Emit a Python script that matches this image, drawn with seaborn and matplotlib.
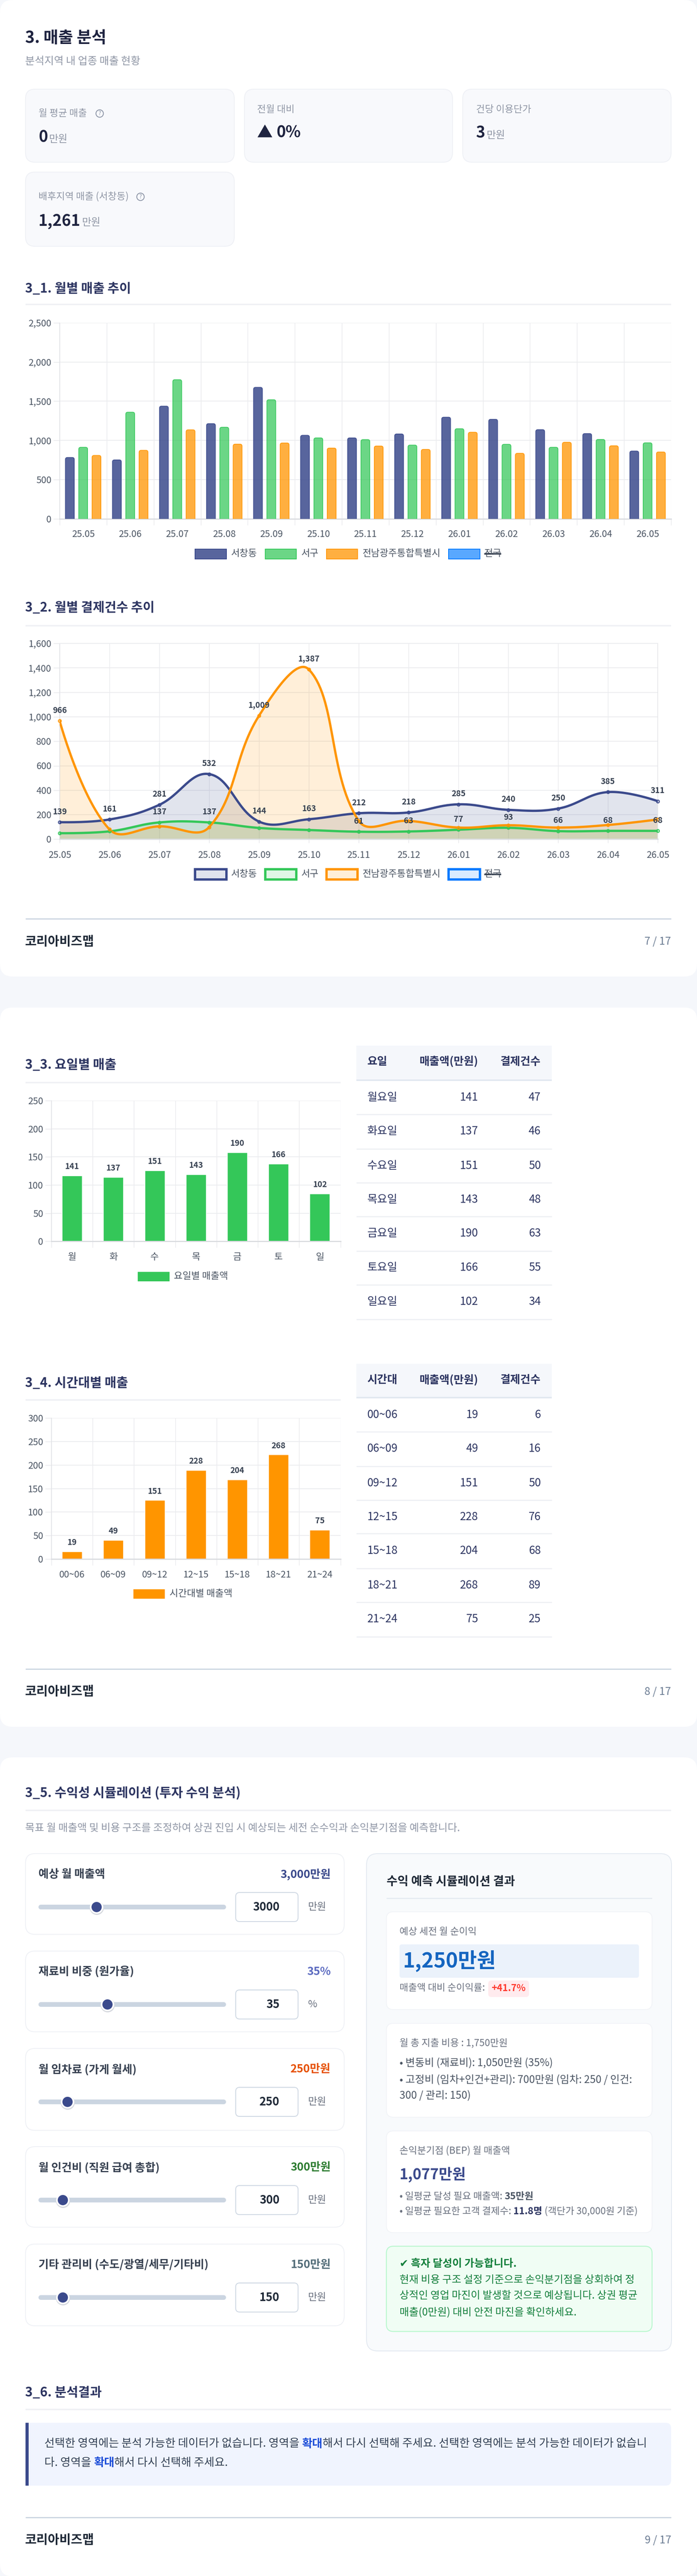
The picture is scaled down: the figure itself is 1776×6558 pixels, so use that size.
import numpy as np
import pandas as pd
import matplotlib
matplotlib.use("Agg")
import matplotlib.pyplot as plt
from matplotlib.patches import FancyBboxPatch, Rectangle, Circle
from matplotlib.colors import to_rgba
import seaborn as sns

sns.set_theme(style="white")
plt.rcParams['font.family'] = ['Noto Sans CJK KR', 'DejaVu Sans']
plt.rcParams['axes.unicode_minus'] = False

# 데이터
months = ["25.05", "25.06", "25.07", "25.08", "25.09", "25.10", "25.11", "25.12",
          "26.01", "26.02", "26.03", "26.04", "26.05"]
series_names = ["서창동", "서구", "전남광주통합특별시"]
sales_seochang = [782, 751, 1437, 1214, 1677, 1065, 1032, 1082, 1296, 1269, 1137, 1087, 864]
sales_seogu = [912, 1360, 1775, 1168, 1519, 1032, 1010, 940, 1149, 950, 912, 1012, 969]
sales_jeonnam = [808, 873, 1135, 952, 967, 902, 928, 885, 1104, 835, 976, 931, 852]

count_seochang = [139, 161, 281, 532, 144, 163, 212, 218, 285, 240, 250, 385, 311]
count_seogu = [49, 64, 137, 137, 92, 75, 61, 63, 77, 93, 66, 68, 68]
count_jeonnam = [966, 80, 105, 99, 1009, 1387, 150, 150, 95, 114, 95, 116, 161]

weekdays = ["월", "화", "수", "목", "금", "토", "일"]
weekday_bars = [117, 114, 126, 119, 158, 138, 85]
weekday_labels = [141, 137, 151, 143, 190, 166, 102]
weekday_rows = ["월요일", "화요일", "수요일", "목요일", "금요일", "토요일", "일요일"]
weekday_counts = [47, 46, 50, 48, 63, 55, 34]

hours = ["00~06", "06~09", "09~12", "12~15", "15~18", "18~21", "21~24"]
hour_bars = [16, 40.5, 125, 189, 169, 222, 62]
hour_labels = [19, 49, 151, 228, 204, 268, 75]
hour_counts = [6, 16, 50, 76, 68, 89, 25]

slider_names = ["예상 월 매출액", "재료비 비중 (원가율)", "월 임차료 (가게 월세)", "월 인건비 (직원 급여 총합)",
                "기타 관리비 (수도/광열/세무/기타비)"]
slider_shown = ["3,000만원", "35%", "250만원", "300만원", "150만원"]
slider_inputs = ["3000", "35", "250", "300", "150"]
slider_units = ["만원", "%", "만원", "만원", "만원"]
slider_pos = [0.31, 0.368, 0.155, 0.13, 0.13]
slider_colors = ["#3B4A8C", "#5C6BC0", "#E65100", "#2E7D32", "#546E7A"]

NAVY = "#3B4A8C"
GREEN = "#34C759"
ORANGE = "#FF9500"
BLUE = "#007AFF"
HEAD = "#2D3561"
GRAY = "#9097A6"
colors = [NAVY, GREEN, ORANGE]
bar_alpha = {NAVY: 0.85, GREEN: 0.73, ORANGE: 0.75, BLUE: 0.65}

W, H = 1776, 6558
fig = plt.figure(figsize=(W / 100, H / 100), dpi=100, facecolor="#F5F7FB")
page = fig.add_axes([0, 0, 1, 1], zorder=0)
page.set_xlim(0, W)
page.set_ylim(H, 0)
page.axis("off")


def put(x, y, s, size, color="#374151", weight="normal", ha="left", **kw):
    return page.text(x, y, s, fontsize=size * 0.72, color=color, fontweight=weight,
                     ha=ha, va="center", **kw)


def box(x0, y0, x1, y1, r, fc, ec="none", lw=2, **kw):
    p = FancyBboxPatch((x0, y0), x1 - x0, y1 - y0, boxstyle=f"round,pad=0,rounding_size={r}",
                       fc=fc, ec=ec, lw=lw * 0.72, **kw)
    page.add_patch(p)
    return p


def rule(x0, x1, y, color="#F0F1F5", px=4):
    page.plot([x0, x1], [y, y], color=color, lw=px * 0.72, solid_capstyle="butt")


def runs(x, y, parts, size):
    # 글자 굵기, 색이 섞인 한 줄
    rend = fig.canvas.get_renderer()
    for s, color, weight in parts:
        t = put(x, y, s, size, color, weight)
        x += t.get_window_extent(rend).width


def chart_axes(x0, y0, x1, y1):
    ax = fig.add_axes([x0 / W, 1 - y1 / H, (x1 - x0) / W, (y1 - y0) / H], zorder=1)
    ax.set_facecolor("white")
    return ax


def legend_row(items, y, h, alpha, edge_px):
    for x, w, tx, name, color in items:
        a = bar_alpha[color] if alpha is None else alpha
        page.add_patch(Rectangle((x, y - h / 2), w, h, fc=to_rgba(color, a), ec=color, lw=edge_px * 0.72))
        put(tx, y, name, 24, "#4B5563")


legend_items = [(497, 80, 589, "서창동", NAVY), (676, 79, 768, "서구", GREEN),
                (832, 79, 924, "전남광주통합특별시", ORANGE), (1143, 80, 1234, "전국", BLUE)]


def style_axis(ax, bottom_px=3):
    sns.despine(ax=ax, top=True, right=True)
    ax.spines["left"].set_color("#E0E1E5")
    ax.spines["left"].set_linewidth(1.1)
    ax.spines["bottom"].set_color("#DADCE0")
    ax.spines["bottom"].set_linewidth(bottom_px * 0.72)
    ax.set_axisbelow(True)
    ax.yaxis.grid(True, color="#EBECEF", lw=1.5)
    ax.set_xlabel("")
    ax.set_ylabel("")
    ax.tick_params(axis="y", left=True, length=16 * 0.72, width=1, color="#E3E4E8", labelsize=23.5 * 0.72,
                   labelcolor="#4B5563", pad=3.5)


def band_grid(ax, n):
    ax.set_xlim(-0.5, n - 0.5)
    ax.set_xticks(np.arange(-0.5, n), minor=True)
    ax.xaxis.grid(True, which="minor", color="#E4E5E8", lw=0.9)
    ax.tick_params(axis="x", which="minor", bottom=True, length=16 * 0.72, width=0.9, color="#E4E5E8")
    ax.tick_params(axis="x", which="major", length=0, labelsize=23.5 * 0.72, labelcolor="#4B5563", pad=20.8)


# ---- 배경 카드 3장 ----
box(0, 0, W, 2486, 32, "white")
box(0, 2565, W, 4396, 32, "white")
box(0, 4474, W, H + 1, 32, "white")

# ---- 제목, 요약 카드 ----
put(64, 97, "3. 매출 분석", 41, "#1F2440", "bold")
put(64, 156, "분석지역 내 업종 매출 현황", 26.6, GRAY)

for x0, x1, y0, y1 in [(65, 597, 227, 413), (623, 1153, 227, 413), (1179, 1710, 227, 413), (65, 597, 438, 627)]:
    box(x0, y0, x1, y1, 24, "#F8F9FC", "#EEF0F5", 2)


def help_icon(x, y):
    page.add_patch(Circle((x, y), 9.5, fc="none", ec="#8A93A5", lw=1.5))
    put(x, y, "?", 14, "#8A93A5", ha="center")


put(98, 289, "월 평균 매출", 24.5, GRAY)
help_icon(254, 289)
put(98, 350, "0", 40, "#1F2440", "bold")
put(125, 354, "만원", 26, GRAY)
put(655, 279, "전월 대비", 24.5, GRAY)
put(655, 338, "▲", 40, "#1F2440", "bold")
put(704, 338, "0%", 40, "#1F2440", "bold")
put(1213, 279, "건당 이용단가", 24.5, GRAY)
put(1213, 339, "3", 40, "#1F2440", "bold")
put(1240, 344, "만원", 26, GRAY)
put(98, 501, "배후지역 매출 (서창동)", 24.5, GRAY)
help_icon(358, 501)
put(98, 564, "1,261", 40, "#1F2440", "bold")
put(209, 567, "만원", 26, GRAY)

# ---- 3_1 월별 매출 추이 ----
put(64, 735, "3_1. 월별 매출 추이", 32.6, HEAD, "bold")
rule(65, 1710, 775)

ax1 = chart_axes(152, 822, 1710, 1320.6)
sales_df = pd.DataFrame({"month": months * 3,
                         "series": np.repeat(series_names, 13),
                         "value": sales_seochang + sales_seogu + sales_jeonnam})
sns.barplot(data=sales_df, x="month", y="value", hue="series", palette=colors, saturation=1,
            width=0.85, gap=0.335, legend=False, ax=ax1)
ax1.set_ylim(0, 2500)
style_axis(ax1)
band_grid(ax1, 13)
ax1.set_yticks(range(0, 2501, 500))
ax1.set_yticklabels([f"{v:,}" for v in range(0, 2501, 500)])
# 막대 위쪽 모서리 둥글게
band_px = (1710 - 152) / 13
unit_px = (1320.6 - 822) / 2500
bar_colors = np.repeat(colors, 13)
for bar, hexcol in zip(list(ax1.patches), bar_colors):
    bx, bw, bh = bar.get_x(), bar.get_width(), bar.get_height()
    rx = 5 / band_px
    ax1.add_patch(FancyBboxPatch((bx, -100), bw, bh + 100, boxstyle=f"round,pad=0,rounding_size={rx}",
                                 mutation_aspect=(5 / unit_px) / rx,
                                 fc=to_rgba(hexcol, bar_alpha[hexcol]), ec=hexcol, lw=1.2, zorder=3))
    bar.remove()
legend_row(legend_items, 1410, 25, None, 2)
rule(1234, 1277, 1410, "#374151", 4)

# ---- 3_2 월별 결제건수 추이 ----
put(64, 1547, "3_2. 월별 결제건수 추이", 32.6, HEAD, "bold")
rule(65, 1710, 1593)

ax2 = chart_axes(152, 1638, 1676, 2136.4)
x_px = (1676 - 152) / 12
y_px = (2136.4 - 1638) / 1600


def smooth_curve(values, tension=0.4, n=30):
    # 베지어 곡선으로 점 사이를 부드럽게 연결 (픽셀 거리 기준)
    pts = np.column_stack([np.arange(len(values)) * x_px, np.array(values) * y_px])
    before, after = pts.copy(), pts.copy()
    for i in range(1, len(pts) - 1):
        d01 = np.hypot(*(pts[i] - pts[i - 1]))
        d12 = np.hypot(*(pts[i + 1] - pts[i]))
        s = d01 / (d01 + d12)
        before[i] = pts[i] - tension * s * (pts[i + 1] - pts[i - 1])
        after[i] = pts[i] + tension * (1 - s) * (pts[i + 1] - pts[i - 1])
    out = []
    t = np.linspace(0, 1, n)[:, None]
    for i in range(len(pts) - 1):
        seg = ((1 - t) ** 3 * pts[i] + 3 * (1 - t) ** 2 * t * after[i]
               + 3 * (1 - t) * t ** 2 * before[i + 1] + t ** 3 * pts[i + 1])
        out.append(seg)
    out = np.vstack(out)
    return out[:, 0] / x_px, np.maximum(out[:, 1], 0) / y_px


count_series = [count_seochang, count_seogu, count_jeonnam]
shown_labels = [list(range(13)), list(range(2, 4)) + list(range(6, 13)), [0, 4, 5]]
for vals, col in zip(count_series, colors):
    xs, ys = smooth_curve(vals)
    ax2.fill_between(xs, ys, 0, color=col, alpha=0.15, lw=0, zorder=2)
for vals, col in zip(count_series, colors):
    xs, ys = smooth_curve(vals)
    sns.lineplot(x=xs, y=ys, sort=False, estimator=None, color=col, lw=4.2, ax=ax2, zorder=3)
    sns.scatterplot(x=range(13), y=vals, color=to_rgba(col, 0.3), s=30, edgecolor=col, linewidth=1.5,
                    ax=ax2, zorder=4, clip_on=False, legend=False)
for vals, col, idx in zip(count_series, colors, shown_labels):
    for i in idx:
        ax2.annotate(f"{vals[i]:,}", (i, vals[i]), xytext=(0, 27 * 0.72), textcoords="offset points",
                     ha="center", va="center", fontsize=20.5 * 0.72, color="#374151", fontweight="bold",
                     annotation_clip=False, zorder=6)
ax2.set_xlim(0, 12)
ax2.set_ylim(0, 1600)
style_axis(ax2)
ax2.spines["top"].set_visible(True)
ax2.spines["top"].set_color("#EBECEF")
ax2.spines["top"].set_linewidth(1.5)
ax2.spines["right"].set_visible(True)
ax2.spines["right"].set_color("#E4E5E8")
ax2.xaxis.grid(True, color="#E4E5E8", lw=0.9)
ax2.set_yticks(range(0, 1601, 200))
ax2.set_yticklabels([f"{v:,}" for v in range(0, 1601, 200)])
ax2.set_xticks(range(13))
ax2.set_xticklabels(months)
ax2.tick_params(axis="x", bottom=True, length=10 * 0.72, width=1, color="#E3E4E8", labelsize=23.5 * 0.72,
                labelcolor="#4B5563", pad=14)
legend_row(legend_items, 2225.5, 26, 0.15, 6)
rule(1234, 1277, 2225.5, "#374151", 4)

rule(65, 1710, 2338.5, "#CBD5E1", 3)
put(64, 2397.5, "코리아비즈맵", 32, "#1F2937", "bold")
put(1710, 2397.5, "7 / 17", 27, "#6B7C93", ha="right")


# ---- 3_3, 3_4 막대 + 표 ----
def small_bar(y0, y1, cats, vals, labels, color, ymax, step):
    ax = chart_axes(131, y0, 867.5, y1)
    df = pd.DataFrame({"cat": cats, "value": vals})
    sns.barplot(data=df, x="cat", y="value", color=color, saturation=1, width=0.485, ax=ax, zorder=3)
    ax.set_ylim(0, ymax)
    style_axis(ax)
    band_grid(ax, len(cats))
    ax.set_yticks(range(0, ymax + 1, step))
    ax.spines["bottom"].set_zorder(4)
    for i, (v, lab) in enumerate(zip(vals, labels)):
        ax.annotate(str(lab), (i, v), xytext=(0, 23 * 0.72), textcoords="offset points", ha="center",
                    va="center", fontsize=20.5 * 0.72, color="#374151", fontweight="bold", annotation_clip=False)
    return ax


def table(head_y0, head_y1, head_y, first, cats, amounts, counts, text_ys, line_ys):
    page.add_patch(Rectangle((908, head_y0), 497.5, head_y1 - head_y0, fc="#F5F7FB", ec="none"))
    rule(908, 1405.5, head_y1 + 1.5, "#E2E8F0", 4)
    put(935.5, head_y, first, 28, HEAD, "bold")
    put(1218.5, head_y, "매출액(만원)", 28, HEAD, "bold", ha="right")
    put(1378, head_y, "결제건수", 28, HEAD, "bold", ha="right")
    for c, a, n, ty, ly in zip(cats, amounts, counts, text_ys, line_ys):
        put(935.5, ty, c, 28, HEAD)
        put(1218.5, ty, str(a), 28, HEAD, ha="right")
        put(1378, ty, str(n), 28, HEAD, ha="right")
        rule(908, 1405.5, ly, "#EEF0F4", 3)


put(64, 2712, "3_3. 요일별 매출", 32.6, HEAD, "bold")
rule(65, 867.5, 2756)
small_bar(2802, 3160.4, weekdays, weekday_bars, weekday_labels, GREEN, 250, 50)
page.add_patch(Rectangle((351, 3238), 80.5, 24, fc=GREEN, ec="none"))
put(443, 3250, "요일별 매출액", 24, "#4B5563")
table(2662, 2748, 2703, "요일", weekday_rows, weekday_labels, weekday_counts,
      [2794, 2880, 2968, 3054, 3140, 3227, 3314], [2837, 2925, 3011, 3097, 3185, 3271, 3358.5])

put(64, 3522, "3_4. 시간대별 매출", 32.6, HEAD, "bold")
rule(65, 867.5, 3564)
small_bar(3610, 3969, hours, hour_bars, hour_labels, ORANGE, 300, 50)
page.add_patch(Rectangle((340, 4046), 80, 24, fc=ORANGE, ec="none"))
put(431.5, 4058, "시간대별 매출액", 24, "#4B5563")
table(3472, 3556, 3513.5, "시간대", hours, hour_labels, hour_counts,
      [3602, 3688, 3776, 3862, 3948, 4036.5, 4122.5], [3645, 3733, 3819, 3904, 3992.5, 4078.5, 4166.5])

rule(65, 1710, 4249, "#CBD5E1", 3)
put(64, 4307, "코리아비즈맵", 32, "#1F2937", "bold")
put(1710, 4307, "8 / 17", 27, "#6B7C93", ha="right")

# ---- 3_5 수익성 시뮬레이션 ----
put(64, 4565, "3_5. 수익성 시뮬레이션 (투자 수익 분석)", 32.6, HEAD, "bold")
rule(65, 1710, 4609)
put(64, 4655, "목표 월 매출액 및 비용 구조를 조정하여 상권 진입 시 예상되는 세전 순수익과 손익분기점을 예측합니다.", 26.4, GRAY)

card_tops = [4719, 4967, 5215, 5465, 5713]
card_bots = [4924.5, 5172.5, 5423.5, 5670, 5921]
TRACK_X0, TRACK_X1 = 98, 576
for i, name in enumerate(slider_names):
    top, bot = card_tops[i], card_bots[i]
    box(65, top, 877, bot, 24, "white", "#EEF0F5", 2)
    put(98, top + 53, name, 28.4, "#374151", "bold")
    put(843, top + 53, slider_shown[i], 28.4, slider_colors[i], "bold", ha="right")
    my = top + 136
    page.plot([TRACK_X0 + 6, TRACK_X1 - 6], [my, my], color="#CBD5E1", lw=12 * 0.72, solid_capstyle="round")
    tx = TRACK_X0 + slider_pos[i] * (TRACK_X1 - TRACK_X0)
    page.add_patch(Circle((tx + 0.5, my + 2), 18, fc="#D5D8DE", ec="none", zorder=3))
    page.add_patch(Circle((tx, my), 17, fc="white", ec="none", zorder=4))
    page.add_patch(Circle((tx, my), 13, fc=NAVY, ec="none", zorder=5))
    box(600.5, my - 37, 759.5, my + 37, 10, "white", "#CBD5E1", 2)
    put(712, my, slider_inputs[i], 29, "#1F2937", "bold", ha="right")
    put(785, my, slider_units[i], 25.5, "#6B7280")

# 결과 패널
box(934, 4719, 1711, 5985, 28, "#F8FAFC", "#E2E8F0", 2)
put(984.5, 4790, "수익 예측 시뮬레이션 결과", 30.3, "#1F2937", "bold")
rule(984.5, 1661.5, 4832.5, "#E2E8F0", 2.5)

box(984.5, 4867, 1661.5, 5116, 18, "white", "#F1F3F7", 2)
put(1018, 4918, "예상 세전 월 순이익", 24.4, "#6B7280")
box(1018, 4950, 1628, 5035, 6, "#EBF2FB")
put(1027, 4992, "1,250만원", 52.5, "#1565C0", "bold")
put(1018, 5061.5, "매출액 대비 순이익률:", 24.2, "#6B7280")
box(1244, 5042, 1348, 5084, 8, "#FFEBEE")
put(1296, 5062, "+41.7%", 24, "#FF3B30", "bold", ha="center")

box(984.5, 5151, 1661.5, 5390, 18, "white", "#F1F3F7", 2)
put(1018, 5202, "월 총 지출 비용 : 1,750만원", 24.5, "#6B7280")
put(1018, 5252.5, "• 변동비 (재료비): 1,050만원 (35%)", 26.5, "#4B5563")
put(1018, 5295.5, "• 고정비 (임차+인건+관리): 700만원 (임차: 250 / 인건:", 26.5, "#4B5563")
put(1018, 5335, "300 / 관리: 150)", 26.5, "#4B5563")

box(984.5, 5425, 1661.5, 5684, 18, "white", "#F1F3F7", 2)
put(1018, 5476.5, "손익분기점 (BEP) 월 매출액", 24.5, "#6B7280")
put(1018, 5536, "1,077만원", 37.5, NAVY, "bold")
runs(1018, 5592, [("• 일평균 달성 필요 매출액: ", "#6B7280", "normal"), ("35만원", "#4B5563", "bold")], 24.5)
runs(1018, 5630, [("• 일평균 필요한 고객 결제수: ", "#6B7280", "normal"), ("11.8명", HEAD, "bold"),
                  (" (객단가 30,000원 기준)", "#6B7280", "normal")], 24.5)

box(984.5, 5718.5, 1661.5, 5935.5, 18, "#F0FDF4", "#BBF7D0", 2.5)
put(1018, 5763, "✔ 흑자 달성이 가능합니다.", 27, "#15803D", "bold")
put(1018, 5804, "현재 비용 구조 설정 기준으로 손익분기점을 상회하여 정", 26.4, "#15803D")
put(1018, 5845, "상적인 영업 마진이 발생할 것으로 예상됩니다. 상권 평균", 26.4, "#15803D")
put(1018, 5887, "매출(0만원) 대비 안전 마진을 확인하세요.", 26.4, "#15803D")

# ---- 3_6 분석결과 ----
put(64, 6092, "3_6. 분석결과", 32.6, HEAD, "bold")
rule(65, 1710, 6134)
box(65, 6168, 1710, 6328, 14, "#F0F4FE")
page.add_patch(Rectangle((65, 6168), 14, 160, fc="#F0F4FE", ec="none"))
page.add_patch(Rectangle((65, 6168), 8, 160, fc=NAVY, ec="none"))
TXT = "#334155"
runs(113, 6222, [("선택한 영역에는 분석 가능한 데이터가 없습니다. 영역을 ", TXT, "normal"), ("확대", "#1D4ED8", "bold"),
                 ("해서 다시 선택해 주세요. 선택한 영역에는 분석 가능한 데이터가 없습니", TXT, "normal")], 28.5)
runs(113, 6270, [("다. 영역을 ", TXT, "normal"), ("확대", "#1D4ED8", "bold"),
                 ("해서 다시 선택해 주세요.", TXT, "normal")], 28.5)

rule(65, 1710, 6409, "#CBD5E1", 3)
put(64, 6467, "코리아비즈맵", 32, "#1F2937", "bold")
put(1710, 6467, "9 / 17", 27, "#6B7C93", ha="right")

fig.savefig("out.png", dpi=100, facecolor=fig.get_facecolor())
